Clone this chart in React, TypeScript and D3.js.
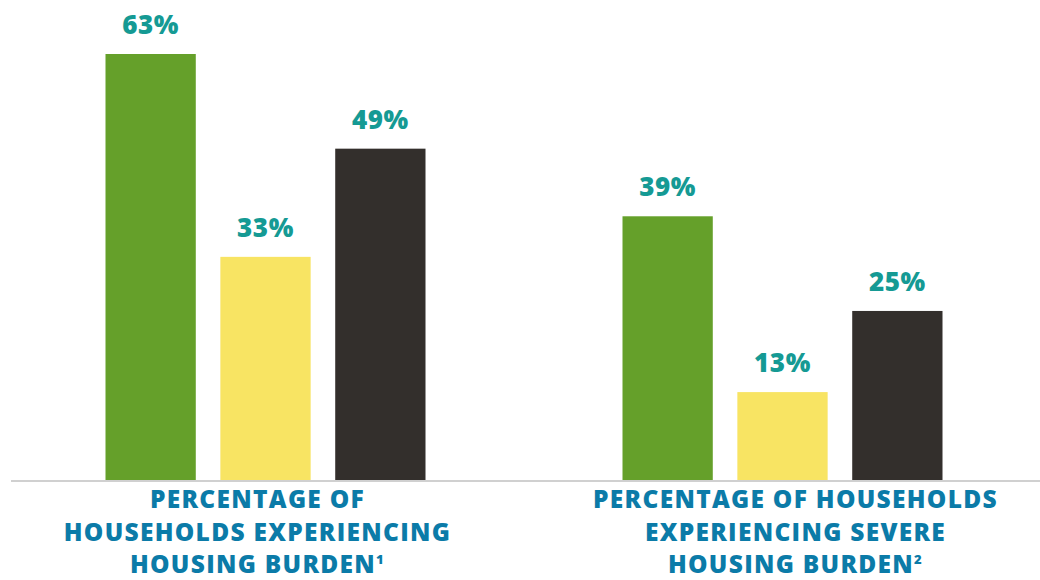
import React from "react";
import * as d3 from "d3";

const categories = ["burden", "severe"];
const categoryLines = [
  ["PERCENTAGE OF", "HOUSEHOLDS EXPERIENCING", "HOUSING BURDEN"],
  ["PERCENTAGE OF HOUSEHOLDS", "EXPERIENCING SEVERE", "HOUSING BURDEN"],
];
const footnotes = ["1", "2"];
const series = ["s1", "s2", "s3"];
const seriesColors = ["#65a02a", "#f8e463", "#332f2c"];
const values = [
  [63, 33, 49],
  [39, 13, 25],
];

const W = 1040;
const H = 580;
const baseY = 480;
const FONT = "'Open Sans', Lato, sans-serif";

export default function App() {
  const x0 = d3.scalePoint<string>().domain(categories).range([265.5, 782.5]);
  const x1 = d3.scaleBand<string>().domain(series).range([-160, 160]).paddingInner(0.214);
  const y = d3.scaleLinear().domain([0, 63]).range([baseY, 54]);
  const labelOffset = [-8, 13];

  return (
    <svg width={W} height={H} style={{ position: "absolute", left: 0, top: 0 }}>
      <rect width={W} height={H} fill="#fff" />
      <line x1={11} x2={W} y1={baseY + 1} y2={baseY + 1} stroke="#d0d0d0" strokeWidth={2} />
      {categories.map((c, ci) => (
        <g key={c} transform={`translate(${x0(c)},0)`}>
          {series.map((s, si) => {
            const v = values[ci][si];
            const bx = x1(s)!;
            return (
              <g key={s}>
                <rect x={bx} y={y(v)} width={x1.bandwidth()} height={baseY - y(v)} fill={seriesColors[si]} />
                <text
                  x={bx + x1.bandwidth() / 2}
                  y={y(v) - 20}
                  textAnchor="middle"
                  fontFamily={FONT}
                  fontWeight={800}
                  fontSize={26}
                  letterSpacing={0.6}
                  fill="#159a94"
                >
                  {v}%
                </text>
              </g>
            );
          })}
          <text
            x={labelOffset[ci]}
            textAnchor="middle"
            fontFamily={FONT}
            fontWeight={800}
            fontSize={24.5}
            letterSpacing={1.3}
            fill="#0b7ba8"
          >
            {categoryLines[ci].map((line, li) => (
              <tspan key={li} x={labelOffset[ci]} y={508 + li * 32.5}>
                {line}
                {li === categoryLines[ci].length - 1 ? (
                  <tspan fontSize={13} dy={-9}>{footnotes[ci]}</tspan>
                ) : null}
              </tspan>
            ))}
          </text>
        </g>
      ))}
    </svg>
  );
}
